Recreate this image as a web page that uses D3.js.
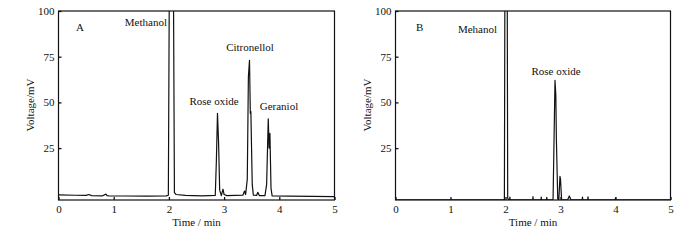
<!DOCTYPE html>
<html>
<head>
<meta charset="utf-8">
<script src="https://cdn.jsdelivr.net/npm/d3@7"></script>
<style>
  body { margin: 0; background: #fff; }
  svg { display: block; }
  text { font-family: "Liberation Serif", "DejaVu Serif", serif; fill: #111; }
</style>
</head>
<body>
<svg width="700" height="240"></svg>
<script>
// chromatogram A (standards)
var timeA = [0, 0.3, 0.5, 0.55, 0.6, 0.8, 0.86, 0.88, 0.92, 1.2, 1.6, 1.95, 1.99, 2.01, 2.08, 2.10, 2.13, 2.3, 2.6,
  2.84, 2.86, 2.88, 2.90, 2.92, 2.95, 2.98, 3.0, 3.05, 3.2, 3.34, 3.37, 3.39, 3.42, 3.44, 3.46, 3.475, 3.485, 3.51, 3.53,
  3.59, 3.61, 3.64, 3.74, 3.77, 3.80, 3.815, 3.83, 3.85, 3.87, 4.2, 4.6, 5.0];
var voltA = [-0.6, -0.8, -0.9, -0.4, -1.0, -1.1, -0.2, -1.0, -1.2, -1.2, -1.3, -1.1, -0.8, 130, 130, 0.6, -0.4, -0.9, -1.1,
  -0.9, 18, 44, 28, 2, -1.0, 2.5, -0.4, -1.0, -0.9, -0.8, 1.5, -0.4, 8, 64, 73, 44, 45, 5, -0.7,
  -0.9, 0.8, -1.0, -1.0, 5, 41, 25, 33, 3, -1.1, -1.3, -1.4, -1.5];

// chromatogram B (sample)
var timeB = [0, 1.0, 1.98, 1.99, 2.03, 2.04, 2.06, 2.075, 2.08, 2.085, 2.3, 2.495, 2.5, 2.505, 2.645, 2.65, 2.655,
  2.745, 2.75, 2.755, 2.85, 2.865, 2.9, 2.915, 2.925, 2.95, 2.97, 2.99, 3.0, 3.02, 3.05, 3.13, 3.16, 3.19,
  3.395, 3.4, 3.405, 3.495, 3.5, 3.505, 3.995, 4.0, 4.005, 5.0];
var voltB = [-3.3, -3.3, -3.3, 130, 130, -2.5, -3.3, -3.3, -1.8, -3.3, -3.3, -3.3, -1.6, -3.3, -3.3, -1.8, -3.3,
  -3.3, -2.0, -3.3, -3.3, -3.0, 62, 54, 30, -3.0, -3.2, 9.5, 8, -3.2, -3.3, -3.3, -1.2, -3.3,
  -3.3, -1.8, -3.3, -3.3, -1.7, -3.3, -3.3, -2.2, -3.3, -3.3];

var xTicks = [0, 1, 2, 3, 4, 5];
var yTicks = [25, 50, 75, 100];

var panels = [
  { id: "A", time: timeA, volt: voltA, left: 58.5, right: 334.5,
    letter: [76, 31], labels: [
      { t: "Methanol", x: 167, y: 26, anchor: "end" },
      { t: "Rose oxide", x: 214, y: 105, anchor: "middle" },
      { t: "Citronellol", x: 250, y: 51, anchor: "middle" },
      { t: "Geraniol", x: 279, y: 110, anchor: "middle" } ] },
  { id: "B", time: timeB, volt: voltB, left: 395.5, right: 670.5,
    letter: [416, 31], labels: [
      { t: "Mehanol", x: 497, y: 33, anchor: "end" },
      { t: "Rose oxide", x: 556, y: 75, anchor: "middle" } ] }
];

var svg = d3.select("svg"),
  plotTop = 11,
  plotBottom = 200;

svg.append("rect").attr("width", 700).attr("height", 240).attr("fill", "#fff");

panels.forEach(function (p) {
  var x = d3.scaleLinear().domain([0, 5]).range([p.left, p.right]),
    y = d3.scaleLinear().domain([-3.4, 100]).range([plotBottom, plotTop]);

  var g = svg.append("g");

  g.append("clipPath").attr("id", "clip" + p.id)
    .append("rect")
    .attr("x", p.left).attr("y", plotTop)
    .attr("width", p.right - p.left).attr("height", plotBottom - plotTop);

  var pts = p.time.map(function (t, i) { return [t, p.volt[i]]; });
  var line = d3.line()
    .x(function (d) { return x(d[0]); })
    .y(function (d) { return y(d[1]); });

  g.append("path")
    .datum(pts)
    .attr("clip-path", "url(#clip" + p.id + ")")
    .attr("fill", "none")
    .attr("stroke", "#111")
    .attr("stroke-width", 1.2)
    .attr("stroke-linejoin", "round")
    .attr("d", line);

  //axes with inward ticks
  var ax = g.append("g")
    .attr("transform", "translate(0," + plotBottom + ")")
    .call(d3.axisBottom(x).tickValues(xTicks).tickSize(-3).tickPadding(5).tickFormat(d3.format("d")));
  var ay = g.append("g")
    .attr("transform", "translate(" + p.left + ",0)")
    .call(d3.axisLeft(y).tickValues(yTicks).tickSize(-3).tickPadding(4));
  [ax, ay].forEach(function (a) {
    a.select(".domain").remove();
    a.selectAll("line").attr("stroke", "#111").attr("stroke-width", 1.3);
    a.selectAll("text").style("font-family", "Liberation Serif").style("font-size", "11px").attr("fill", "#111");
  });

  g.append("rect")
    .attr("x", p.left).attr("y", plotTop)
    .attr("width", p.right - p.left).attr("height", plotBottom - plotTop)
    .attr("fill", "none").attr("stroke", "#111").attr("stroke-width", 1.2);

  g.append("text")
    .attr("x", (p.left + p.right) / 2).attr("y", 226)
    .attr("text-anchor", "middle").style("font-size", "11px")
    .text("Time / min");

  g.append("text")
    .attr("transform", "translate(" + (p.left - 25) + ",105) rotate(-90)")
    .attr("text-anchor", "middle").style("font-size", "11px")
    .text("Voltage/mV");

  g.append("text")
    .attr("x", p.letter[0]).attr("y", p.letter[1])
    .style("font-size", "11px").text(p.id);

  p.labels.forEach(function (l) {
    g.append("text")
      .attr("x", l.x).attr("y", l.y)
      .attr("text-anchor", l.anchor).style("font-size", "11px")
      .text(l.t);
  });
});
</script>
</body>
</html>
